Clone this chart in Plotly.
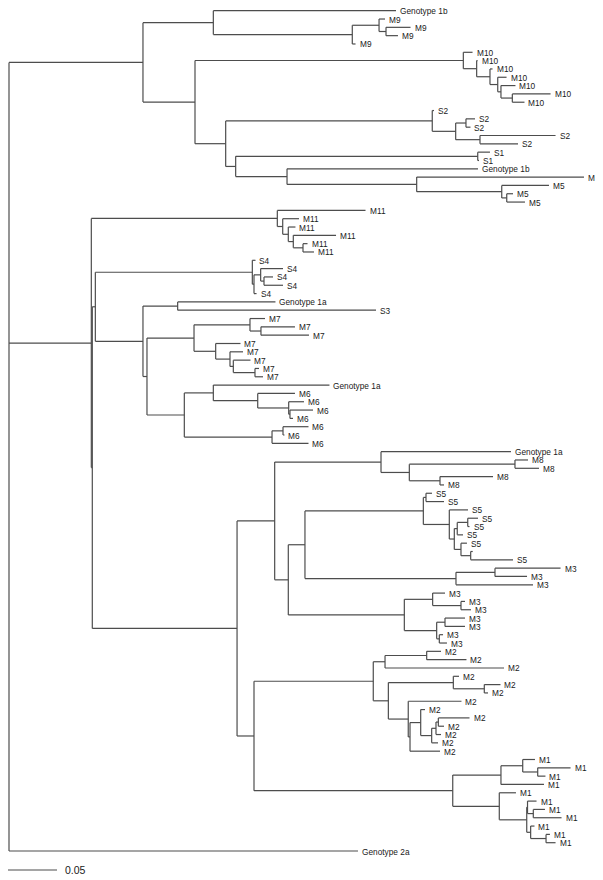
import plotly.graph_objects as go

# Tree written clade by clade. Custom newick: the number after ":" is the
# node's distance from the root (substitutions per site), not the branch length.
CLADE_1B_M9 = "(Genotype 1b:0.3949,((M9:0.3837,(M9:0.4097,M9:0.3969):0.3847):0.3776,M9:0.3536):0.3503):0.2085"
CLADE_M10 = "(M10:0.4730,(M10:0.4781,(M10:0.4934,(M10:0.5077,(M10:0.5168,(M10:0.5526,M10:0.5260):0.5136):0.5020):0.4987):0.4908):0.4772):0.4636"
CLADE_S2 = "(S2:0.4337,((S2:0.4755,S2:0.4709):0.4663,(S2:0.5577,S2:0.5194):0.4806):0.4558):0.4319"
CLADE_S1 = "(S1:0.4908,S1:0.4796):0.4783"
CLADE_1B_M5 = "(Genotype 1b:0.4786,(M5:0.5867,(M5:0.5510,(M5:0.5143,M5:0.5265):0.5079):0.5028):0.4160):0.2837"

CLADE_M11 = "(M11:0.3638,(M11:0.2959,(M11:0.2923,(M11:0.3337,(M11:0.3046,M11:0.3112):0.3000):0.2901):0.2850):0.2793):0.2738"
CLADE_S4 = "(S4:0.2515,((S4:0.2796,(S4:0.2694,S4:0.2796):0.2602):0.2568,S4:0.2526):0.2500):0.2483"
CLADE_1A_S3 = "(Genotype 1a:0.2719,S3:0.3745):0.1721"
CLADE_M7 = "((M7:0.2612,(M7:0.2918,M7:0.3061):0.2571):0.2459,(M7:0.2362,(M7:0.2388,(M7:0.2464,(M7:0.2551,M7:0.2592):0.2510):0.2289):0.2255):0.2109):0.1888"
CLADE_1A_M6 = "((Genotype 1a:0.3270,(M6:0.2918,(M6:0.3010,(M6:0.3102,M6:0.2898):0.2867):0.2854):0.2538):0.2085,((M6:0.3056,M6:0.2811):0.2796,M6:0.3056):0.2684):0.1789"

CLADE_1A_M8 = "(Genotype 1a:0.5122,((M8:0.5296,M8:0.5408):0.5163,(M8:0.4939,M8:0.4439):0.4398):0.4085):0.3796"
CLADE_S5 = "((S5:0.4316,S5:0.4439):0.4255,(S5:0.4684,(((S5:0.4786,S5:0.4699):0.4681,S5:0.4633):0.4574,(S5:0.4673,(:0.4732,S5:0.5143):0.4711):0.4612):0.4544):0.4493):0.4228"
CLADE_M3_A = "((M3:0.5628,M3:0.5286):0.4959,M3:0.5347):0.4561"
CLADE_M3_B = "((M3:0.4449,(M3:0.4653,M3:0.4714):0.4612):0.4323,((M3:0.4653,M3:0.4653):0.4449,(M3:0.4429,M3:0.4469):0.4391):0.4364):0.4034"
CLADE_M2 = ("(((M2:0.4408,M2:0.4668):0.4262,M2:0.5051):0.3837,((M2:0.4592,(M2:0.5015,M2:0.4888):0.4850):0.4534,"
            "(M2:0.4617,((M2:0.4245,(((M2:0.4699,M2:0.4439):0.4381,M2:0.4408):0.4357,M2:0.4378):0.4313):0.4201,M2:0.4398):0.4092):0.4074):0.3871):0.3717")
CLADE_M1 = ("(((M1:0.5367,(M1:0.5730,M1:0.5474):0.5395):0.5242,M1:0.5459):0.5020,(M1:0.5173,((M1:0.5383,(M1:0.5469,M1:0.5638):0.5350):0.5291,"
            "(M1:0.5362,(M1:0.5520,M1:0.5577):0.5480):0.5323):0.5283):0.5003):0.4528")
OUTGROUP = "Genotype 2a:0.3561"

SCALE_BAR = 0.05
SCALE_LABEL = "0.05"

# backbone joining the clades
GROUP_A = f"({CLADE_1B_M9},({CLADE_M10},({CLADE_S2},({CLADE_S1},{CLADE_1B_M5}):0.2313):0.2211):0.1898):0.1367"
GROUP_B_UPPER = f"({CLADE_S4},({CLADE_1A_S3},({CLADE_M7},{CLADE_1A_M6}):0.1408):0.1367):0.0881"
GROUP_C = (f"(({CLADE_1A_M8},(({CLADE_S5},{CLADE_M3_A}):0.3020,{CLADE_M3_B}):0.2850):0.2711,"
           f"({CLADE_M2},{CLADE_M1}):0.2500):0.2327")
GROUP_B = f"({CLADE_M11},({GROUP_B_UPPER},{GROUP_C}):0.0850):0.0840"
TREE = f"({GROUP_A},{GROUP_B},{OUTGROUP}):0"

# geometry, in pixels of the figure (the page adds an 8 px body margin)
WIDTH, HEIGHT = 595, 872
ROOT_PX, PX_PER_UNIT = 1, 980
FIRST_ROW_PX, ROW_PX = 2.7, 8.32
BAR_PX = 862
LINE_COLOR = "#4d4d4d"
TEXT_COLOR = "#1a1a1a"
FONT = "Liberation Sans, Arial, Helvetica, sans-serif"


def parse_tree(s):
    pos = 0

    def node():
        nonlocal pos
        children = []
        if s[pos] == "(":
            pos += 1
            children.append(node())
            while s[pos] == ",":
                pos += 1
                children.append(node())
            pos += 1  # ")"
        start = pos
        while pos < len(s) and s[pos] not in ":,()":
            pos += 1
        label = s[start:pos]
        depth = 0.0
        if pos < len(s) and s[pos] == ":":
            pos += 1
            start = pos
            while pos < len(s) and s[pos] not in ",()":
                pos += 1
            depth = float(s[start:pos])
        return {"label": label, "depth": depth, "children": children}

    return node()


def layout_rows(root):
    leaves = []

    def walk(n):
        if not n["children"]:
            n["y"] = len(leaves)
            leaves.append(n)
            return
        for c in n["children"]:
            walk(c)
        n["y"] = (n["children"][0]["y"] + n["children"][-1]["y"]) / 2

    walk(root)
    return leaves


def edges(root):
    xs, ys = [], []

    def walk(n):
        for c in n["children"]:
            xs.extend([n["depth"], c["depth"], None])
            ys.extend([c["y"], c["y"], None])
            walk(c)
        if n["children"]:
            xs.extend([n["depth"], n["depth"], None])
            ys.extend([n["children"][0]["y"], n["children"][-1]["y"], None])

    walk(root)
    return xs, ys


root = parse_tree(TREE)
leaves = layout_rows(root)
ex, ey = edges(root)

fig = go.Figure()
fig.add_trace(go.Scatter(x=ex, y=ey, mode="lines",
                         line=dict(color=LINE_COLOR, width=1.2), hoverinfo="skip"))

for leaf in leaves:
    if not leaf["label"]:
        continue
    fig.add_annotation(x=leaf["depth"], y=leaf["y"], text=leaf["label"], showarrow=False,
                       xanchor="left", yanchor="middle", xshift=2, yshift=-0.5,
                       font=dict(family=FONT, size=8.3, color=TEXT_COLOR))

# scale bar
bar_row = (BAR_PX - FIRST_ROW_PX) / ROW_PX
bar_x0 = -1 / PX_PER_UNIT
fig.add_trace(go.Scatter(x=[bar_x0, bar_x0 + SCALE_BAR], y=[bar_row, bar_row], mode="lines",
                         line=dict(color=LINE_COLOR, width=1.2), hoverinfo="skip"))
fig.add_annotation(x=bar_x0 + SCALE_BAR, y=bar_row, text=SCALE_LABEL, showarrow=False,
                   xanchor="left", yanchor="middle", xshift=6,
                   font=dict(family=FONT, size=10.5, color=TEXT_COLOR))

x0 = -ROOT_PX / PX_PER_UNIT
x1 = (WIDTH - ROOT_PX) / PX_PER_UNIT
y_top = -FIRST_ROW_PX / ROW_PX
y_bot = (HEIGHT - FIRST_ROW_PX) / ROW_PX

fig.update_layout(
    width=WIDTH, height=HEIGHT,
    margin=dict(l=0, r=0, t=0, b=0),
    paper_bgcolor="white", plot_bgcolor="white",
    showlegend=False,
    xaxis=dict(range=[x0, x1], visible=False, fixedrange=True),
    yaxis=dict(range=[y_bot, y_top], visible=False, fixedrange=True),
)

fig.write_html("out.html")
